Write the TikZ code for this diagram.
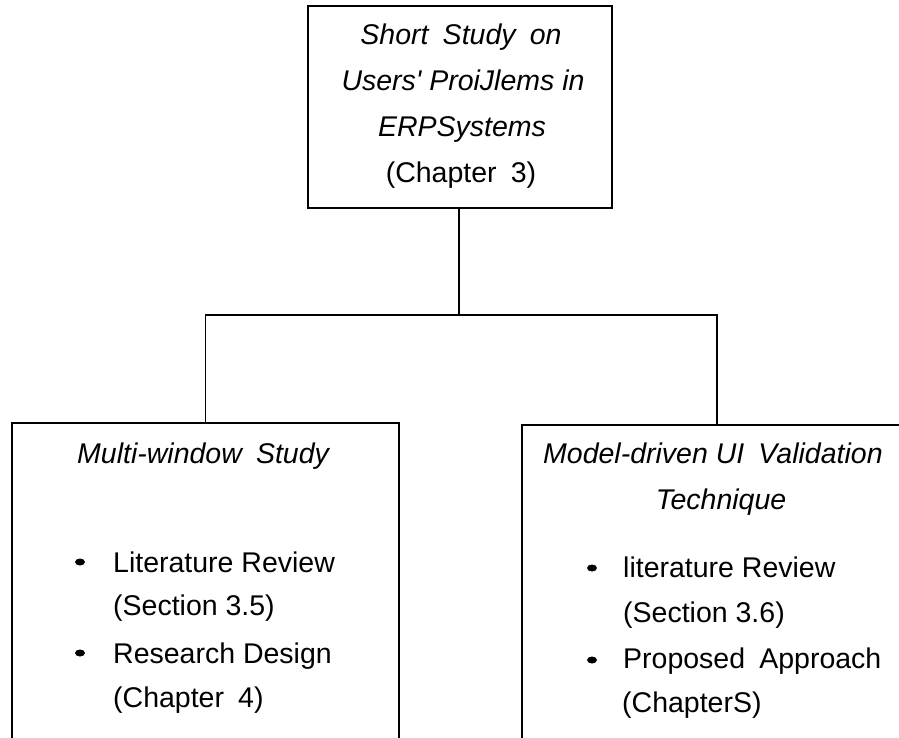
\documentclass[tikz,border=0pt]{standalone}
\usepackage{fontspec}
\setmainfont{Liberation Sans}
% family without TeX ligatures, for a straight apostrophe
\newfontfamily\plainsans{Liberation Sans}
\usetikzlibrary{shapes.geometric}
\newcommand{\wgap}{\hspace{0.22em} }
\begin{document}
\begin{tikzpicture}[x=1pt,y={(0pt,-1pt)},
  box/.style={draw, line width=1.3pt, rectangle, inner sep=0pt},
  link/.style={line width=1.3pt},
  txt/.style={inner sep=0pt, font=\fontsize{28.5}{46}\selectfont},
  ttl/.style={inner sep=0pt, font=\fontsize{28.5}{46}\selectfont\itshape},
  dot/.style={fill=black, ellipse, minimum width=10pt, minimum height=7pt, inner sep=0pt}
]
\useasboundingbox (0,0) rectangle (899,738);
\clip (0,0) rectangle (899,738);

% boxes
\node[box, minimum width=304pt, minimum height=202pt] (top) at (460,107) {};
\node[box, minimum width=387pt, minimum height=377pt] (left) at (205.5,611.5) {};
\node[box, minimum width=390pt, minimum height=375pt] (right) at (717,612.5) {};

% connectors
\coordinate (bar) at (459,315);
\draw[link] (top.south -| bar) -- (bar);
\draw[link] (left.north) |- (bar) -| (right.north);

% top box text
\node[ttl, anchor=base] (t1) at (461,45) {Short\wgap Study\wgap on};
\node[ttl, anchor=base] (t2) at (463,91) {Users{\plainsans\itshape '} ProiJlems in};
\node[ttl, anchor=base] (t3) at (462,137) {ERPSystems};
\node[txt, anchor=base] (t4) at (461,183) {(Chapter\wgap 3)};

% left box text
\node[ttl, anchor=base west] (l0) at (77,463) {Multi-window\wgap Study};
\node[dot] (lb1) at (80,562) {};
\node[txt, anchor=base west] (l1) at (113,572) {Literature Review};
\node[txt, anchor=base west] (l2) at (113,615) {(Section 3.5)};
\node[dot] (lb2) at (80,653) {};
\node[txt, anchor=base west] (l3) at (113,663) {Research Design};
\node[txt, anchor=base west] (l4) at (113,707) {(Chapter\wgap 4)};

% right box text
\node[ttl, anchor=base west] (r0) at (543,463) {Model-driven UI\wgap Validation};
\node[ttl, anchor=base] (r1) at (721,509) {Technique};
\node[dot] (rb1) at (592,568) {};
\node[txt, anchor=base west] (r2) at (623,577) {literature Review};
\node[txt, anchor=base west] (r3) at (623,622) {(Section 3.6)};
\node[dot] (rb2) at (592,660) {};
\node[txt, anchor=base west] (r4) at (623,668) {Proposed\wgap Approach};
\node[txt, anchor=base west] (r5) at (622,712) {(ChapterS)};
\end{tikzpicture}
\end{document}
